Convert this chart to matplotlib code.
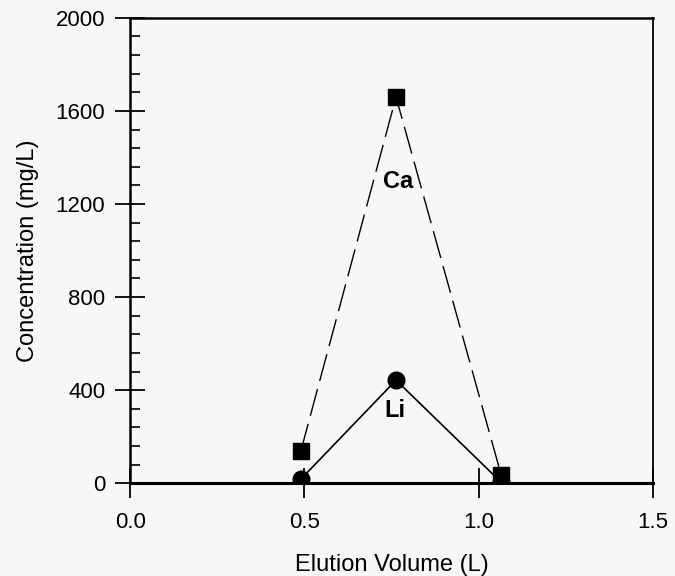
import matplotlib
matplotlib.use("Agg")
import matplotlib.pyplot as plt
from matplotlib.ticker import MultipleLocator, FormatStrFormatter

# ── data ────────────────────────────────────────────────────────────────────
volume = [0.49, 0.763, 1.065]
ca_conc = [140, 1660, 35]
li_conc = [18, 443, 4]

plt.rcParams["font.family"] = ["Liberation Sans", "DejaVu Sans"]

# ── figure ───────────────────────────────────────────────────────────────────
fig = plt.figure(figsize=(6.75, 5.76), dpi=100, facecolor="#f7f7f7")
ax = fig.add_axes([0.193, 0.161, 0.774, 0.808], facecolor="#f7f7f7")

ax.plot(volume, ca_conc, color="black", lw=1.0, ls=(0, (20, 6)),
        marker="s", ms=11, mfc="black", mec="black", zorder=3)
ax.plot(volume, li_conc, color="black", lw=1.2, ls="-",
        marker="o", ms=12, mfc="black", mec="black", zorder=3)

ax.text(0.768, 1295, "Ca", fontsize=17, fontweight="bold", ha="center", va="center")
ax.text(0.76, 314, "Li", fontsize=17, fontweight="bold", ha="center", va="center")

ax.set_xlim(0, 1.5)
ax.set_ylim(0, 2000)
ax.xaxis.set_major_locator(MultipleLocator(0.5))
ax.yaxis.set_major_locator(MultipleLocator(400))
ax.yaxis.set_minor_locator(MultipleLocator(80))
ax.xaxis.set_major_formatter(FormatStrFormatter("%.1f"))

ax.tick_params(axis="y", which="major", direction="inout", length=22, width=1.3,
               labelsize=16, pad=7)
ax.tick_params(axis="y", which="minor", direction="in", length=7, width=1.2)
ax.tick_params(axis="x", which="major", direction="inout", length=22, width=1.3,
               labelsize=16, pad=10)

for side in ["left", "top"]:
    ax.spines[side].set_linewidth(1.8)
ax.spines["bottom"].set_linewidth(2.2)
ax.spines["right"].set_linewidth(1.3)

ax.set_xlabel("Elution Volume (L)", fontsize=17, labelpad=15)
ax.set_ylabel("Concentration (mg/L)", fontsize=17, labelpad=12)

fig.savefig("out.png", dpi=100, facecolor=fig.get_facecolor())
